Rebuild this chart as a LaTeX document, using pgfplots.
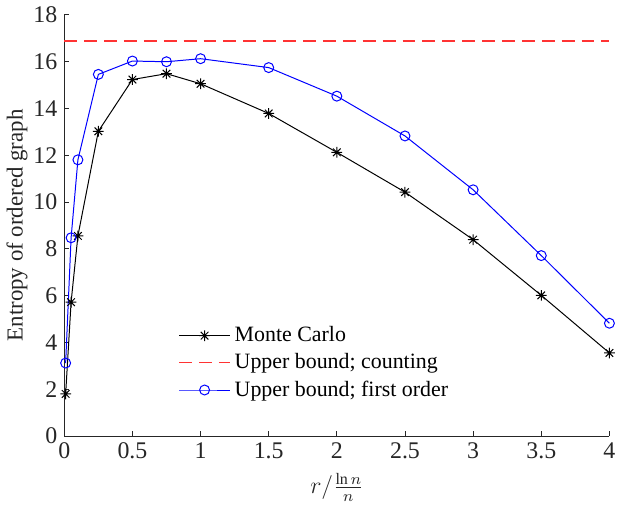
\documentclass[border=0pt]{standalone}
\usepackage{fontspec}
\setmainfont{Liberation Serif}
\usepackage{pgfplots}
\pgfplotsset{compat=1.18}
\definecolor{mred}{rgb}{1,0.2,0.2}
\definecolor{axgray}{rgb}{0.15,0.15,0.15}
% MATLAB-style eight-arm asterisk
\pgfdeclareplotmark{mstar}{%
  \pgfpathmoveto{\pgfqpoint{0pt}{\pgfplotmarksize}}%
  \pgfpathlineto{\pgfqpoint{0pt}{-\pgfplotmarksize}}%
  \pgfpathmoveto{\pgfqpoint{\pgfplotmarksize}{0pt}}%
  \pgfpathlineto{\pgfqpoint{-\pgfplotmarksize}{0pt}}%
  \pgfpathmoveto{\pgfqpoint{0.707\pgfplotmarksize}{0.707\pgfplotmarksize}}%
  \pgfpathlineto{\pgfqpoint{-0.707\pgfplotmarksize}{-0.707\pgfplotmarksize}}%
  \pgfpathmoveto{\pgfqpoint{-0.707\pgfplotmarksize}{0.707\pgfplotmarksize}}%
  \pgfpathlineto{\pgfqpoint{0.707\pgfplotmarksize}{-0.707\pgfplotmarksize}}%
  \pgfusepathqstroke}
\begin{document}
\begin{tikzpicture}
\begin{axis}[
  scale only axis,
  width=274pt, height=211.8pt,
  xmin=0, xmax=4, ymin=0, ymax=18,
  xtick={0,0.5,1,1.5,2,2.5,3,3.5,4},
  xticklabels={0,0.5,1,1.5,2,2.5,3,3.5,4},
  ytick={0,2,4,6,8,10,12,14,16,18},
  axis lines=left,
  axis line style={-,axgray,line width=0.4pt},
  tick style={axgray,line width=0.4pt},
  tick align=inside,
  major tick length=2.5pt,
  /pgf/number format/assume math mode=true,
  tick label style={font=\fontsize{12}{14}\selectfont,text=axgray},
  label style={font=\fontsize{11.5}{13}\selectfont,text=axgray},
  xlabel={$r/\frac{\ln n}{n}$},
  ylabel={Entropy of ordered graph},
  xlabel style={yshift=0pt},
  ylabel style={yshift=-4pt},
  legend style={draw=none,fill=none,at={(rel axis cs:0.205,0.275)},anchor=north west,
    font=\fontsize{11}{13}\selectfont,row sep=0.5pt,inner sep=1pt},
  legend cell align=left,
  legend image code/.code={%
    \draw[#1,mark repeat=2,mark phase=2] plot coordinates {(0cm,0cm) (0.45cm,0cm) (0.9cm,0cm)};},
  clip=false,
]
\addplot[black,line width=0.5pt,mark=mstar,mark size=2.7pt,mark options={line width=0.5pt}]
  coordinates {(0.01,1.80) (0.05,5.72) (0.1,8.55) (0.25,13.02) (0.5,15.23) (0.75,15.48)
               (1,15.05) (1.5,13.78) (2,12.12) (2.5,10.42) (3,8.39) (3.5,6.01) (4,3.55)};
\addlegendentry{Monte Carlo}
\addplot[mred,line width=0.7pt,dash pattern=on 6.5pt off 3.5pt]
  coordinates {(0,16.87) (4,16.87)};
\addlegendentry{Upper bound; counting}
\addplot[blue,line width=0.5pt,mark=o,mark size=2.5pt,mark options={line width=0.5pt}]
  coordinates {(0.01,3.12) (0.05,8.47) (0.1,11.80) (0.25,15.45) (0.5,16.02) (0.75,15.99)
               (1,16.12) (1.5,15.74) (2,14.52) (2.5,12.82) (3,10.52) (3.5,7.71) (4,4.82)};
\addlegendentry{Upper bound; first order}
\end{axis}
\end{tikzpicture}
\end{document}
